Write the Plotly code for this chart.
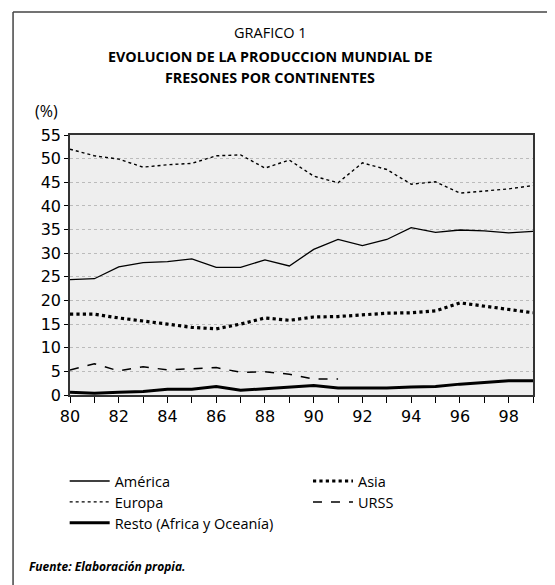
import plotly.graph_objects as go

years = list(range(1980, 2000))
year_labels = [str(y)[2:] if y % 2 == 0 else "" for y in years]

america = [24.4, 24.6, 27.1, 28.0, 28.2, 28.8, 27.0, 27.0, 28.6, 27.3,
           30.8, 32.9, 31.6, 32.9, 35.4, 34.4, 34.9, 34.7, 34.3, 34.6]
asia = [17.1, 17.1, 16.3, 15.7, 15.0, 14.3, 14.0, 15.0, 16.3, 15.8,
        16.5, 16.6, 16.9, 17.3, 17.4, 17.8, 19.5, 18.8, 18.1, 17.4]
europa = [52.0, 50.6, 49.9, 48.2, 48.7, 49.0, 50.6, 50.8, 48.0, 49.7,
          46.3, 44.9, 49.1, 47.7, 44.6, 45.1, 42.7, 43.2, 43.6, 44.3]
urss_years = list(range(1980, 1992))
urss = [5.3, 6.6, 5.1, 6.0, 5.3, 5.5, 5.8, 4.8, 4.9, 4.4, 3.4, 3.4]
resto = [0.6, 0.35, 0.6, 0.75, 1.2, 1.2, 1.8, 1.0, 1.3, 1.6,
         2.0, 1.5, 1.5, 1.5, 1.7, 1.8, 2.3, 2.7, 3.0, 3.0]

y_ticks = list(range(0, 60, 5))

FONT = "Open Sans"
fig = go.Figure()
fig.add_trace(go.Scatter(x=years, y=america, name="América", mode="lines", legend="legend",
                         line=dict(color="black", width=1.3)))
fig.add_trace(go.Scatter(x=years, y=asia, name="Asia", mode="lines", legend="legend2",
                         line=dict(color="black", width=3.2, dash="dot")))
fig.add_trace(go.Scatter(x=years, y=europa, name="Europa", mode="lines", legend="legend3",
                         line=dict(color="black", width=1.4, dash="dot")))
fig.add_trace(go.Scatter(x=urss_years, y=urss, name="URSS", mode="lines", legend="legend4",
                         line=dict(color="black", width=1.5, dash="dash")))
fig.add_trace(go.Scatter(x=years, y=resto, name="Resto (Africa y Oceanía)", mode="lines",
                         legend="legend5", line=dict(color="black", width=3)))

leg_common = dict(orientation="v", xanchor="left", yanchor="middle",
                  font=dict(size=14.5, family=FONT), bgcolor="rgba(0,0,0,0)",
                  tracegroupgap=0, itemwidth=40)
col1, col2 = -0.0115, 0.514
row1, row2, row3 = -0.331, -0.4115, -0.492
fig.update_layout(
    width=555, height=585,
    margin=dict(l=62, r=30, t=127, b=198, autoexpand=False),
    paper_bgcolor="white", plot_bgcolor="#eeeeee",
    font=dict(family=FONT, color="black"),
    showlegend=True,
    legend=dict(x=col1, y=row1, **leg_common),
    legend2=dict(x=col2, y=row1, **leg_common),
    legend3=dict(x=col1, y=row2, **leg_common),
    legend4=dict(x=col2, y=row2, **leg_common),
    legend5=dict(x=col1, y=row3, **leg_common),
)
fig.update_xaxes(range=[1980, 1999], tickvals=years, ticktext=year_labels,
                 ticks="outside", ticklen=6, tickcolor="black", tickwidth=1,
                 showline=True, linecolor="#333", linewidth=1.5, mirror=True,
                 showgrid=False, zeroline=False,
                 tickfont=dict(size=16, family="DejaVu Sans"))
fig.update_yaxes(range=[0, 55], tickvals=y_ticks, ticks="outside", ticklen=4,
                 tickcolor="black", showline=True, linecolor="#333", linewidth=1.5,
                 mirror=True, showgrid=True, gridcolor="#bbbbbb", griddash="dot",
                 gridwidth=1, zeroline=False,
                 tickfont=dict(size=16, family="DejaVu Sans"))

# outer frame: top and left edges only (others lie outside the picture)
fig.add_shape(type="line", xref="paper", yref="paper", x0=-0.123, x1=1.2, y0=1.473, y1=1.473,
              line=dict(color="#444", width=1.5))
fig.add_shape(type="line", xref="paper", yref="paper", x0=-0.123, x1=-0.123, y0=1.473, y1=-1.0,
              line=dict(color="#444", width=1.5))

fig.add_annotation(text="GRAFICO 1", xref="paper", yref="paper", x=0.432, y=1.396,
                   showarrow=False, font=dict(size=14.5, family=FONT), xanchor="center", yanchor="middle")
fig.add_annotation(text="<b>EVOLUCION DE LA PRODUCCION MUNDIAL DE</b>", xref="paper", yref="paper",
                   x=0.432, y=1.300, showarrow=False, font=dict(size=14.3, family=FONT),
                   xanchor="center", yanchor="middle")
fig.add_annotation(text="<b>FRESONES POR CONTINENTES</b>", xref="paper", yref="paper",
                   x=0.432, y=1.222, showarrow=False, font=dict(size=14.3, family=FONT),
                   xanchor="center", yanchor="middle")
fig.add_annotation(text="(%)", xref="paper", yref="paper", x=-0.05, y=1.093,
                   showarrow=False, font=dict(size=16, family=FONT), xanchor="center", yanchor="middle")
fig.add_annotation(text="<b><i>Fuente: Elaboración propia.</i></b>", xref="paper", yref="paper",
                   x=-0.093, y=-0.658, showarrow=False, font=dict(size=12, family=FONT),
                   xanchor="left", yanchor="middle")

fig.write_html("out.html")
